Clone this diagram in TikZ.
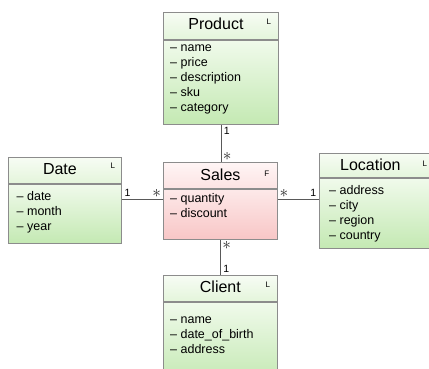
\documentclass[tikz,border=0pt]{standalone}
\usepackage{fontspec}
\setmainfont{Liberation Sans}
\usepackage{tikz}
\usetikzlibrary{calc}

\definecolor{boxline}{HTML}{8C8C8C}
\definecolor{connline}{HTML}{595959}
\definecolor{greenheadtop}{HTML}{F7FCF4}
\definecolor{greenheadbot}{HTML}{E4F5DB}
\definecolor{greenbodytop}{HTML}{F0FAEB}
\definecolor{greenbodybot}{HTML}{C4E9B3}
\definecolor{pinkheadtop}{HTML}{FFF5F5}
\definecolor{pinkheadbot}{HTML}{FCE3E3}
\definecolor{pinkbodytop}{HTML}{FDE9E9}
\definecolor{pinkbodybot}{HTML}{F8C6C6}

\begin{document}
\begin{tikzpicture}[x=1pt,y=-1pt]
\tikzstyle{head}=[draw=boxline,line width=0.8pt,anchor=north west,inner sep=0,minimum width=114,minimum height=26,top color=greenheadtop,bottom color=greenheadbot]
\tikzstyle{body}=[draw=boxline,line width=0.8pt,anchor=north west,inner sep=0,minimum width=114,top color=greenbodytop,bottom color=greenbodybot]
\tikzstyle{facthead}=[head,top color=pinkheadtop,bottom color=pinkheadbot]
\tikzstyle{factbody}=[body,top color=pinkbodytop,bottom color=pinkbodybot]
\tikzstyle{title}=[font=\fontsize{16}{19}\selectfont,inner sep=0]
\tikzstyle{tag}=[font=\fontsize{8}{9}\selectfont,inner sep=0]
\tikzstyle{attr}=[font=\fontsize{12.5}{15}\selectfont,align=left,anchor=north west,inner sep=0]
\tikzstyle{mult}=[font=\fontsize{10.5}{12}\selectfont,inner sep=2.5pt]
\tikzstyle{many}=[font=\fontsize{17}{19}\selectfont,inner sep=1.5pt,text=black!85]
\tikzstyle{conn}=[draw=connline,line width=0.8pt]
\useasboundingbox (0,0) rectangle (429,368);
\clip (0,0) rectangle (429,368);
% Product
\node [head, minimum width=115, minimum height=27] (prodhead) at (163,12) {};
\node [body, minimum width=115, minimum height=84] (prodbody) at (prodhead.south west) {};
\node [title] (prodtitle) at ([xshift=-5,yshift=2]prodhead.center) {Product};
\node [tag] (prodtag) at ([xshift=-10,yshift=-10]prodhead.north east) {L};
\node [attr] (prodattr) at ([xshift=7,yshift=-1]prodbody.north west) {\strut-- name\\-- price\\-- description\\-- sku\\-- category};
% Date
\node [head, minimum width=113] (datehead) at (8,157) {};
\node [body, minimum width=113, minimum height=59] (datebody) at (datehead.south west) {};
\node [title] (datetitle) at ([xshift=-5,yshift=1]datehead.center) {Date};
\node [tag] (datetag) at ([xshift=-9,yshift=-9]datehead.north east) {L};
\node [attr] (dateattr) at ([xshift=8.5,yshift=-6]datebody.north west) {\strut-- date\\-- month\\-- year};
% Sales
\node [facthead] (saleshead) at (163,162) {};
\node [factbody, minimum height=50] (salesbody) at (saleshead.south west) {};
\node [title] (salestitle) at ([yshift=1]saleshead.center) {Sales};
\node [tag] (salestag) at ([xshift=-11,yshift=-12]saleshead.north east) {F};
\node [attr] (salesattr) at ([xshift=7,yshift=-3]salesbody.north west) {\strut-- quantity\\-- discount};
% Location
\node [head, minimum height=24] (lochead) at (319,153) {};
\node [body, minimum height=70] (locbody) at (lochead.south west) {};
\node [title] (loctitle) at ([xshift=-6,yshift=1]lochead.center) {Location};
\node [tag] (loctag) at ([xshift=-9,yshift=-11]lochead.north east) {L};
\node [attr] (locattr) at ([xshift=10,yshift=-5.5]locbody.north west) {\strut-- address\\-- city\\-- region\\-- country};
% Client
\node [head] (clienthead) at (163,275) {};
\node [body, minimum height=80] (clientbody) at (clienthead.south west) {};
\node [title] (clienttitle) at ([yshift=1.5]clienthead.center) {Client};
\node [tag] (clienttag) at ([xshift=-10,yshift=-10]clienthead.north east) {L};
\node [attr] (clientattr) at ([xshift=7,yshift=-10.5]clientbody.north west) {\strut-- name\\-- date\_of\_birth\\-- address};
% links
\draw [conn] (prodbody.south) -- node[mult, pos=0, below right] (pm1) {1} node[many, pos=1, above right] (pm2) {$\ast$} (prodbody.south |- saleshead.north);
\draw [conn] ([yshift=-11]salesbody.north west) -- node[many, pos=0, above left] (dm2) {$\ast$} node[mult, pos=1, above right] (dm1) {1} ([yshift=-11]salesbody.north west -| datebody.east);
\draw [conn] ([yshift=-11]salesbody.north east) -- node[many, pos=0, above right] (lm2) {$\ast$} node[mult, pos=1, above left] (lm1) {1} ([yshift=-11]salesbody.north east -| locbody.west);
\draw [conn] (salesbody.south) -- node[many, pos=0, below right] (cm2) {$\ast$} node[mult, pos=1, above right] (cm1) {1} (clienthead.north);
\end{tikzpicture}
\end{document}
